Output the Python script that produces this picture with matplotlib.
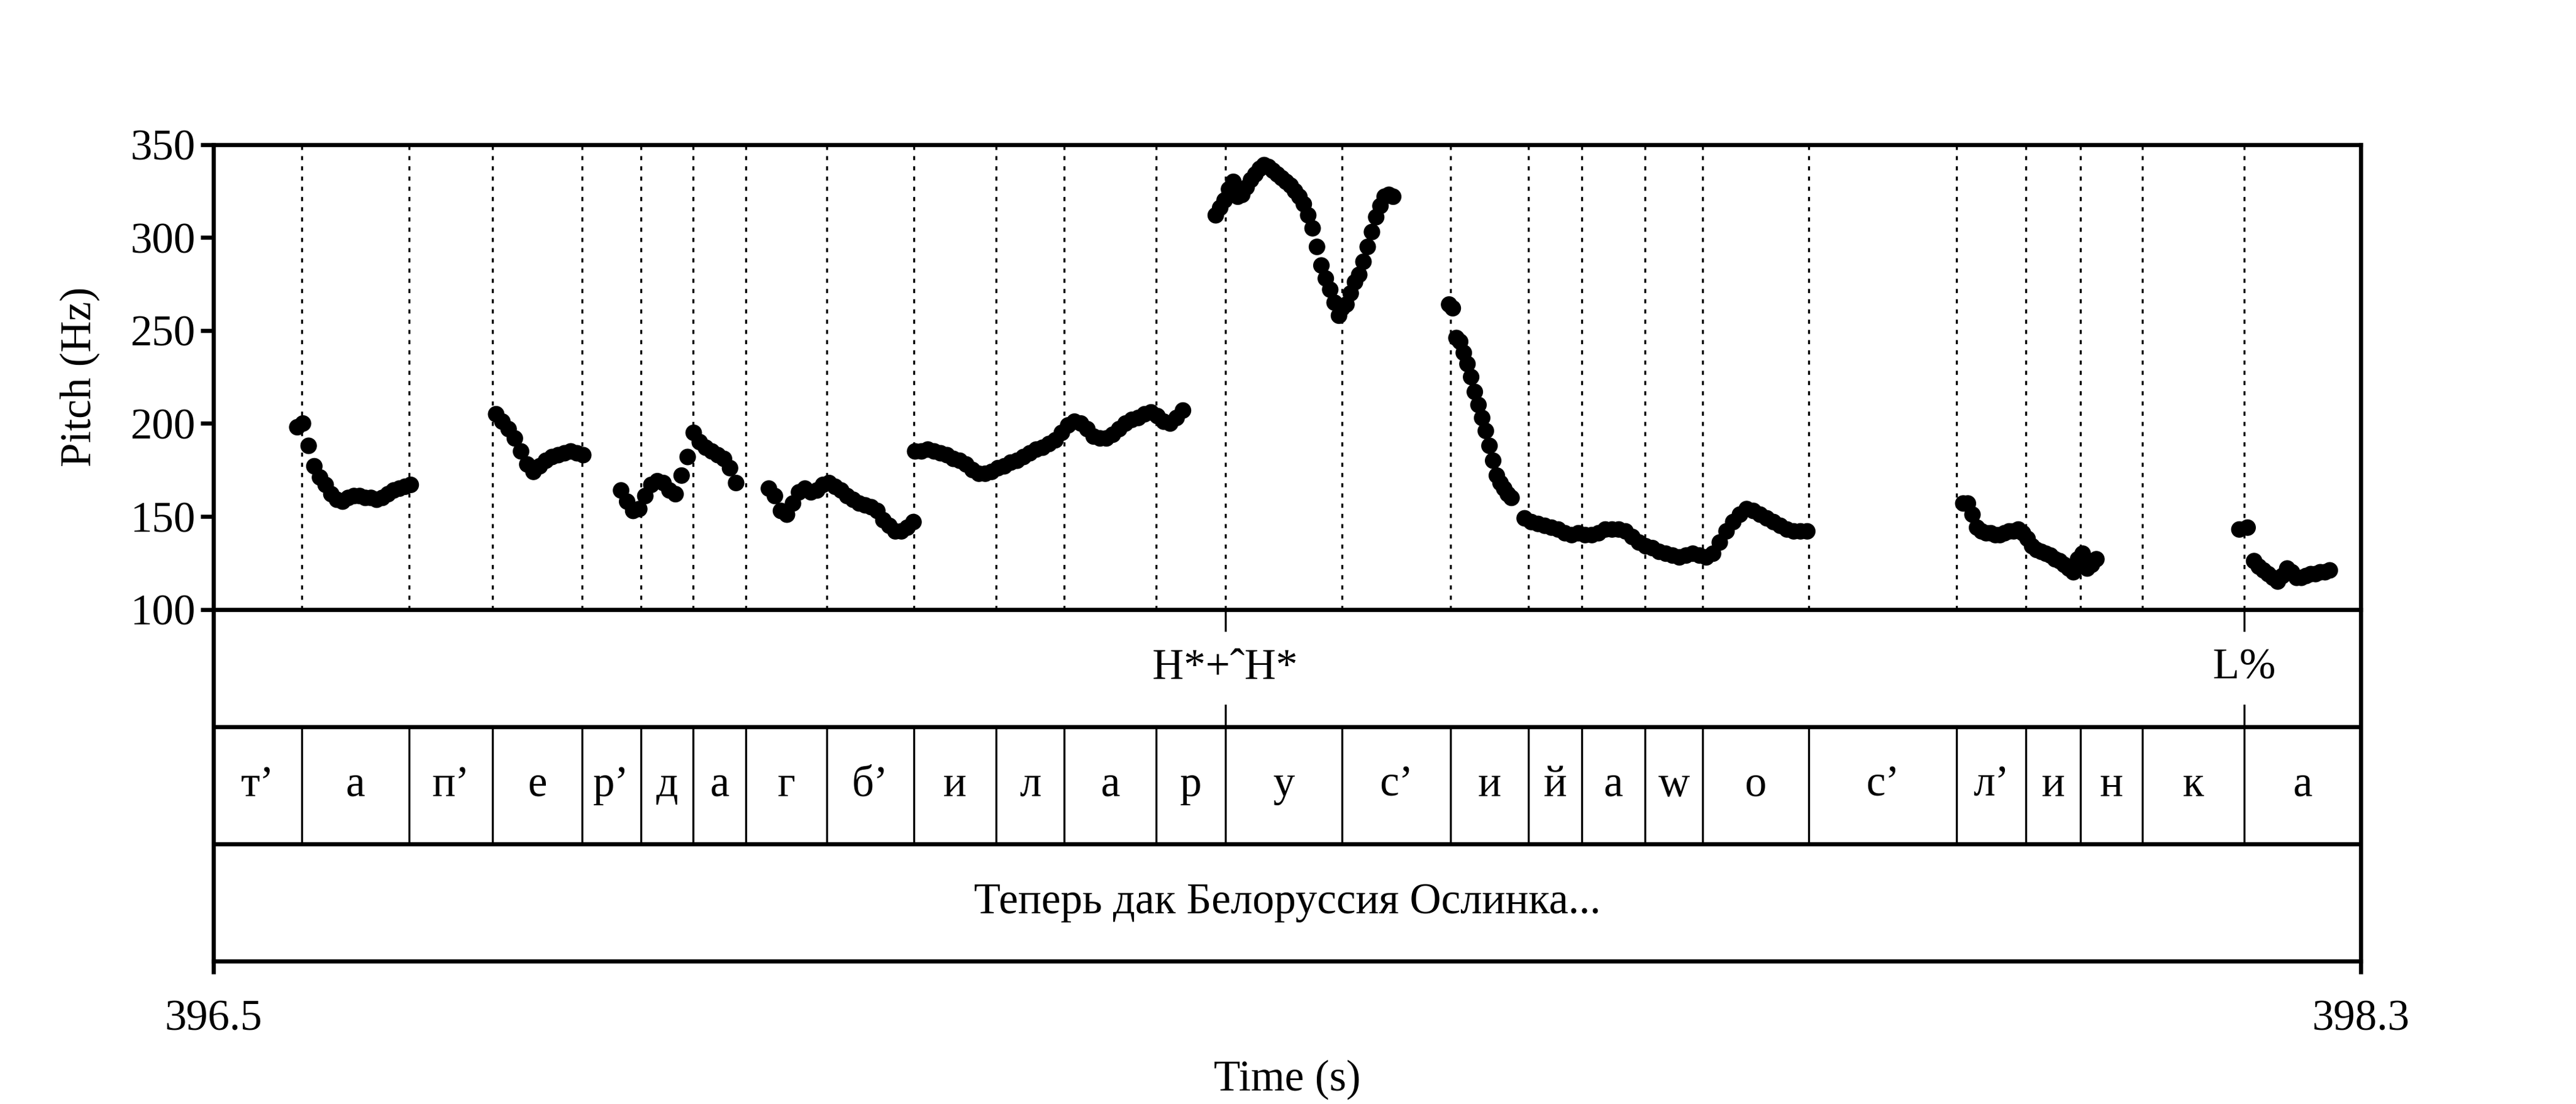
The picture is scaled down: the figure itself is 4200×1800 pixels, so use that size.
import numpy as np
import matplotlib.pyplot as plt

plt.rcParams['font.family'] = ['Liberation Serif', 'DejaVu Serif']

t0, t1 = 396.5, 398.3

# segment tier: boundaries (s) and labels
bounds = [396.5, 396.574, 396.664, 396.734, 396.809, 396.858, 396.902, 396.946,
          397.014, 397.087, 397.156, 397.213, 397.290, 397.348, 397.446, 397.537,
          397.602, 397.647, 397.700, 397.748, 397.837, 397.961, 398.019, 398.065,
          398.117, 398.202, 398.3]
phones = ['т’', 'а', 'п’', 'е', 'р’', 'д', 'а', 'г', 'б’', 'и', 'л', 'а', 'р',
          'у', 'с’', 'и', 'й', 'а', 'w', 'о', 'с’', 'л’', 'и', 'н', 'к', 'а']
tones = [(397.348, 'H*+ˆH*'), (398.202, 'L%')]
sentence = 'Теперь дак Белоруссия Ослинка...'

# pitch track pieces: (start s, end s, Hz values)
pitch = [
    (396.5702, 396.6653, [198, 200, 188, 177, 171, 167, 162, 159, 158, 160, 161, 161,
                          160, 160, 159, 160, 162, 164, 165, 166, 167]),
    (396.7369, 396.8099, [205, 201, 197, 192, 185, 178, 174, 177, 180, 182, 183, 184,
                          185, 184, 183]),
    (396.8416, 396.9380, [164, 158, 153, 154, 161, 167, 169, 168, 164, 162, 172, 182,
                          195, 190, 187, 185, 183, 181, 176, 168]),
    (396.9655, 397.0867, [165, 161, 153, 151, 157, 163, 165, 163, 164, 167, 168, 166,
                          164, 161, 159, 157, 156, 155, 153, 148, 145, 142, 142, 144, 147]),
    (397.0881, 397.3126, [185, 185, 186, 185, 184, 183, 181, 180, 178, 175, 173, 173,
                          174, 176, 177, 179, 180, 182, 184, 186, 187, 189, 191, 195,
                          199, 201, 200, 197, 193, 192, 192, 194, 197, 200, 202, 203,
                          205, 206, 204, 201, 200, 203, 207]),
    (397.3401, 397.4434, [312, 316, 320, 326, 330, 322, 323, 327, 331, 334, 337, 339,
                          338, 336, 334, 332, 330, 328, 325, 322, 318, 312, 305, 295,
                          285, 278, 272, 265, 258]),
    (397.4461, 397.4888, [262, 264, 270, 276, 280, 287, 295, 303, 311, 317, 322, 323, 322]),
    (397.5357, 397.5880, [264, 262, 246, 244, 238, 232, 225, 217, 210, 203, 196, 188,
                          180, 172, 168, 165, 162, 160]),
    (397.5990, 397.8359, [149, 147, 146, 145, 144, 143, 141, 140, 141, 140, 140, 141,
                          143, 143, 143, 142, 139, 136, 134, 133, 131, 130, 129, 128,
                          129, 130, 129, 128, 130, 136, 142, 147, 151, 154, 153, 151,
                          149, 147, 145, 143, 142, 142, 142]),
    (397.9667, 398.0783, [157, 157, 151, 144, 142, 141, 141, 140, 140, 141, 142, 142,
                          143, 141, 138, 134, 132, 131, 130, 129, 127, 126, 124, 122,
                          120, 127, 130, 122, 124, 127]),
    (398.1981, 398.2050, [143, 144]),
    (398.2105, 398.2739, [126, 123, 121, 119, 117, 115, 118, 122, 120, 117, 117, 118,
                          119, 119, 120, 120, 121]),
]

fig = plt.figure(figsize=(14, 6), dpi=300)
L, R = 0.0829, 0.9165
ax = fig.add_axes([L, 0.448, R - L, 0.869 - 0.448])
tax = fig.add_axes([L, 0.1295, R - L, 0.448 - 0.1295])

lw_frame = 1.6
fs = 17

# pitch panel
for b in bounds[1:-1]:
    ax.axvline(b, color='black', lw=0.8, ls=(0, (2, 3)), zorder=1)
for ts, te, hz in pitch:
    tt = np.linspace(ts, te, len(hz))
    ax.scatter(tt, hz, s=42, color='black', edgecolors='none', zorder=3)
ax.set_xlim(t0, t1)
ax.set_ylim(100, 350)
ax.set_yticks([100, 150, 200, 250, 300, 350])
ax.tick_params(axis='y', labelsize=fs, width=lw_frame, length=5, direction='out', pad=2)
ax.set_xticks([])
ax.set_ylabel('Pitch (Hz)', fontsize=fs, labelpad=12)
for s in ax.spines.values():
    s.set_linewidth(lw_frame)

# tiers: y 2-3 tone, 1-2 segments, 0-1 words
tax.set_xlim(t0, t1)
tax.set_ylim(0, 3)
tax.set_yticks([])
for y in (1, 2):
    tax.axhline(y, color='black', lw=lw_frame)
for x, lab in tones:
    tax.plot([x, x], [2.82, 3], color='black', lw=0.8)
    tax.plot([x, x], [2, 2.18], color='black', lw=0.8)
    tax.text(x, 2.5, lab, ha='center', va='center', fontsize=fs)
for b in bounds[1:-1]:
    tax.plot([b, b], [1, 2], color='black', lw=0.8)
for a, b, lab in zip(bounds[:-1], bounds[1:], phones):
    tax.text((a + b) / 2, 1.5, lab, ha='center', va='center', fontsize=fs)
tax.text((t0 + t1) / 2, 0.5, sentence, ha='center', va='center', fontsize=fs)
tax.set_xticks([t0, t1])
tax.set_xticklabels(['396.5', '398.3'])
tax.tick_params(axis='x', labelsize=fs, width=lw_frame, length=5, pad=10)
tax.set_xlabel('Time (s)', fontsize=fs, labelpad=8)
for s in tax.spines.values():
    s.set_linewidth(lw_frame)

fig.savefig('out.png', dpi=300)
